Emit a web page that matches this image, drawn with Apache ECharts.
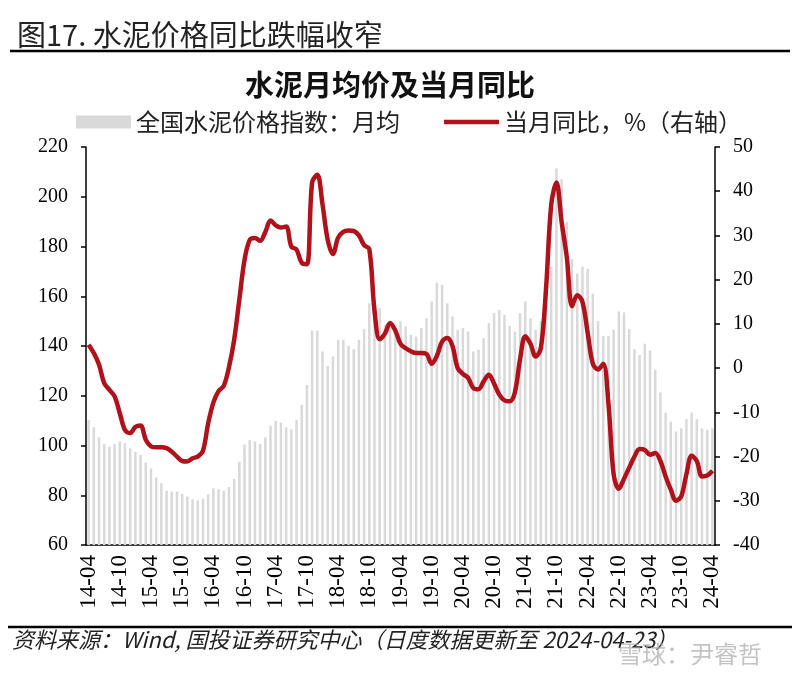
<!DOCTYPE html>
<html>
<head>
<meta charset="utf-8">
<title>水泥月均价及当月同比</title>
<script src="https://cdn.jsdelivr.net/npm/echarts@6/dist/echarts.min.js"></script>
<style>
  html, body { margin: 0; padding: 0; background: #fff; }
  #main { width: 800px; height: 680px; }
</style>
</head>
<body>
<div id="main"></div>
<script>
// 月份 (类目轴)
const months = [
  '14-04', '14-05', '14-06', '14-07', '14-08', '14-09', '14-10', '14-11', '14-12',
  '15-01', '15-02', '15-03', '15-04', '15-05', '15-06', '15-07', '15-08', '15-09', '15-10', '15-11', '15-12',
  '16-01', '16-02', '16-03', '16-04', '16-05', '16-06', '16-07', '16-08', '16-09', '16-10', '16-11', '16-12',
  '17-01', '17-02', '17-03', '17-04', '17-05', '17-06', '17-07', '17-08', '17-09', '17-10', '17-11', '17-12',
  '18-01', '18-02', '18-03', '18-04', '18-05', '18-06', '18-07', '18-08', '18-09', '18-10', '18-11', '18-12',
  '19-01', '19-02', '19-03', '19-04', '19-05', '19-06', '19-07', '19-08', '19-09', '19-10', '19-11', '19-12',
  '20-01', '20-02', '20-03', '20-04', '20-05', '20-06', '20-07', '20-08', '20-09', '20-10', '20-11', '20-12',
  '21-01', '21-02', '21-03', '21-04', '21-05', '21-06', '21-07', '21-08', '21-09', '21-10', '21-11', '21-12',
  '22-01', '22-02', '22-03', '22-04', '22-05', '22-06', '22-07', '22-08', '22-09', '22-10', '22-11', '22-12',
  '23-01', '23-02', '23-03', '23-04', '23-05', '23-06', '23-07', '23-08', '23-09', '23-10', '23-11', '23-12',
  '24-01', '24-02', '24-03', '24-04'
]

// 全国水泥价格指数：月均 (左轴)
const priceIndex = [
  110.3, 107.3, 103.2, 100.6, 99.6, 100.6, 101.6, 100.9, 98.9,
  97.5, 96.2, 93.1, 90.8, 87.2, 84.8, 81.9, 81.5, 81.5, 80.5, 79.5, 78.4,
  77.8, 78.6, 80.5, 82.8, 82.4, 81.8, 83.3, 86.6, 93.5, 100.4, 102.2, 101.6,
  100.6, 103.2, 107.9, 109.9, 109.2, 107.3, 106.5, 110.3, 116.3, 124.4, 146.2, 146.2,
  137.8, 132.0, 135.8, 142.5, 142.5, 140.1, 138.7, 142.5, 146.8, 157.2, 153.2, 155.2,
  148.5, 149.9, 146.5, 149.9, 147.8, 144.5, 143.8, 147.2, 151.2, 157.9, 165.5, 164.6,
  157.2, 151.9, 146.5, 147.2, 145.8, 137.8, 138.5, 143.2, 149.2, 153.2, 154.5, 152.5,
  148.1, 145.8, 153.2, 157.9, 151.2, 146.5, 150.0, 156.0, 172.0, 211.4, 207.0, 190.0,
  175.0, 169.0, 172.0, 171.0, 161.0, 150.0, 144.0, 144.0, 146.5, 153.9, 153.5, 146.8,
  138.7, 136.4, 140.9, 138.2, 130.4, 121.3, 113.2, 109.6, 105.6, 106.9, 110.6, 113.2,
  110.6, 106.9, 106.3, 106.9
]

// 当月同比，% (右轴)
const yoy = [
  5.3, 3.4, 0.8, -3.4, -4.9, -6.4, -10.2, -14.0, -14.7,
  -13.3, -13.0, -16.2, -17.7, -17.9, -17.9, -18.1, -18.9, -20.0, -21.0, -21.1, -20.4,
  -20.0, -18.7, -12.5, -7.8, -5.2, -4.0, 0.2, 6.4, 15.5, 24.5, 29.0, 29.4,
  28.8, 30.8, 33.4, 32.3, 31.8, 32.0, 27.5, 26.8, 23.8, 23.5, 42.0, 43.7,
  37.0, 29.0, 25.8, 29.5, 30.8, 31.1, 31.0, 30.0, 27.8, 26.9, 13.0, 6.5,
  7.8, 10.2, 8.5, 5.5, 4.5, 3.8, 3.4, 3.4, 3.2, 1.0, 2.8, 6.0,
  6.8, 5.0, 0.0, -1.3, -2.2, -4.5, -4.8, -3.0, -1.5, -3.5, -6.0, -7.3,
  -7.5, -5.5, 2.0, 7.2, 5.5, 2.6, 4.5, 18.0, 37.0, 42.0, 33.0, 25.0,
  14.0, 16.5, 15.0, 8.0, 1.0, -0.3, 1.0, -8.0, -24.0, -27.3, -25.0, -22.5,
  -20.0, -18.3, -18.5, -19.6, -19.2, -21.0, -24.5, -27.5, -30.0, -29.0, -24.0, -19.8,
  -21.0, -24.5, -24.3, -23.2
]

const cjkFont = 'Noto Sans CJK SC'
const numFont = 'Liberation Serif'
const lineColor = '#b0121b'

const chartInstance = echarts.init(document.getElementById('main'))

const option = {
  backgroundColor: '#fff',
  animation: false,
  title: [
    {
      text: '图17. 水泥价格同比跌幅收窄',
      left: 12,
      top: 15,
      textStyle: { fontFamily: cjkFont, fontSize: 29, fontWeight: 'normal', color: '#222' }
    },
    {
      text: '水泥月均价及当月同比',
      left: 240,
      top: 65,
      textStyle: { fontFamily: cjkFont, fontSize: 29, fontWeight: 'bold', color: '#111' }
    }
  ],
  legend: {
    left: 76,
    top: 110,
    padding: 0,
    itemWidth: 55,
    itemHeight: 13,
    itemGap: 44,
    textStyle: { fontFamily: cjkFont, fontSize: 24, color: '#222' },
    data: [
      { name: '全国水泥价格指数：月均', icon: 'rect' },
      { name: '当月同比，%（右轴）', icon: 'path://M0,0 L100,0 L100,8 L0,8 Z' }
    ]
  },
  grid: {
    left: 86,
    right: 85,
    top: 147,
    bottom: 135
  },
  xAxis: {
    type: 'category',
    data: months,
    boundaryGap: true,
    axisLine: { onZero: false, lineStyle: { color: '#000', width: 1.5 } },
    axisTick: { interval: 5, alignWithLabel: true, length: 5, lineStyle: { color: '#000', width: 1.5 } },
    axisLabel: {
      interval: 5,
      rotate: 90,
      margin: 10,
      fontFamily: numFont,
      fontSize: 23,
      color: '#000'
    },
    splitLine: { show: false }
  },
  yAxis: [
    {
      type: 'value',
      min: 60,
      max: 220,
      interval: 20,
      axisLine: { show: true, lineStyle: { color: '#000', width: 1.5 } },
      axisTick: { show: true, length: 5, lineStyle: { color: '#000', width: 1.5 } },
      axisLabel: { margin: 18, fontFamily: numFont, fontSize: 20, color: '#000' },
      splitLine: { show: false }
    },
    {
      type: 'value',
      min: -40,
      max: 50,
      interval: 10,
      position: 'right',
      axisLine: { show: true, lineStyle: { color: '#000', width: 1.5 } },
      axisTick: { show: true, length: 5, lineStyle: { color: '#000', width: 1.5 } },
      axisLabel: { margin: 18, fontFamily: numFont, fontSize: 20, color: '#000' },
      splitLine: { show: false }
    }
  ],
  series: [
    {
      name: '全国水泥价格指数：月均',
      type: 'bar',
      yAxisIndex: 0,
      data: priceIndex,
      barWidth: 2.5,
      itemStyle: { color: '#d9d9d9' }
    },
    {
      name: '当月同比，%（右轴）',
      type: 'line',
      yAxisIndex: 1,
      data: yoy,
      smooth: 0.35,
      symbol: 'none',
      lineStyle: { color: lineColor, width: 4.5 },
      itemStyle: { color: lineColor }
    }
  ],
  graphic: [
    {
      type: 'line',
      shape: { x1: 10, y1: 51, x2: 790, y2: 51 },
      style: { stroke: '#000', lineWidth: 2.5 }
    },
    {
      type: 'line',
      shape: { x1: 8, y1: 627, x2: 792, y2: 627 },
      style: { stroke: '#000', lineWidth: 2.5 }
    },
    {
      type: 'text',
      left: 12,
      top: 629,
      style: {
        text: '资料来源：Wind, 国投证券研究中心（日度数据更新至 2024-04-23）',
        font: 'italic 22px "Noto Sans CJK SC"',
        fill: '#222'
      }
    },
    {
      type: 'text',
      left: 618,
      top: 642,
      style: {
        text: '雪球：尹睿哲',
        font: '24px "Noto Sans CJK SC"',
        fill: 'rgba(170,170,170,0.7)'
      }
    }
  ]
}

chartInstance.setOption(option)
window.addEventListener('resize', () => chartInstance.resize())
</script>
</body>
</html>
